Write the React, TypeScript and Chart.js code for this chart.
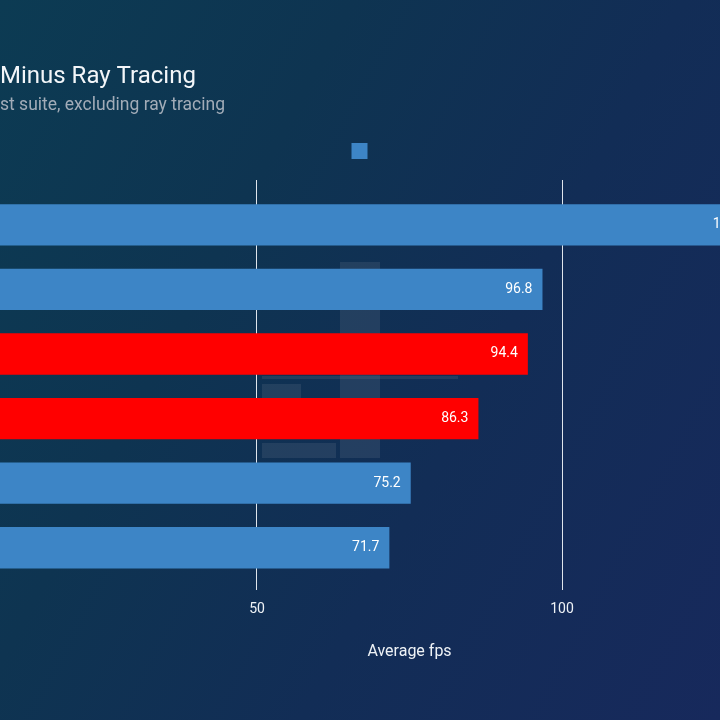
import React, { useEffect, useRef } from 'react';
import { Chart, registerables } from 'chart.js';

Chart.register(...registerables);

// ---- text ----
const TITLE = 'Minus Ray Tracing';
const SUBTITLE = 'st suite, excluding ray tracing';
const X_AXIS_TITLE = 'Average fps';

// ---- data ----
const categories = ['GPU 1', 'GPU 2', 'GPU 3', 'GPU 4', 'GPU 5', 'GPU 6'];
const values = [132.1, 96.8, 94.4, 86.3, 75.2, 71.7];
const barColors = ['#3d85c6', '#3d85c6', '#ff0000', '#ff0000', '#3d85c6', '#3d85c6'];
const xTickValues = [50, 100];

// visible window of the value axis (the full axis runs 0..150)
const X_VISIBLE_MIN = 7.87;
const X_VISIBLE_MAX = 125.9;
const X_AXIS_FULL = [0, 150];

const FONT = 'Roboto';
const TEXT_COLOR = '#eef2f6';
const GRID_COLOR = '#dfe5ec';

const valueLabels = {
  id: 'valueLabels',
  afterDatasetsDraw(chart: any) {
    const ctx = chart.ctx;
    const meta = chart.getDatasetMeta(0);
    ctx.save();
    ctx.font = `14px ${FONT}`;
    ctx.fillStyle = '#ffffff';
    ctx.textAlign = 'right';
    ctx.textBaseline = 'middle';
    meta.data.forEach((bar: any, i: number) => {
      ctx.fillText(values[i].toFixed(1), bar.x - 10, bar.y);
    });
    ctx.restore();
  },
};

const axisTitle = {
  id: 'axisTitle',
  afterDraw(chart: any) {
    const ctx = chart.ctx;
    const xs = chart.scales.x;
    const cx = xs.getPixelForValue((X_AXIS_FULL[0] + X_AXIS_FULL[1]) / 2);
    ctx.save();
    ctx.font = `16px ${FONT}`;
    ctx.fillStyle = TEXT_COLOR;
    ctx.textAlign = 'center';
    ctx.textBaseline = 'middle';
    ctx.fillText(X_AXIS_TITLE, cx, chart.chartArea.bottom + 71.5);
    ctx.restore();
  },
};

const tickSetter = (s: any) => {
  s.ticks = xTickValues.map((v) => ({ value: v }));
};

export default function App() {
  const ref = useRef<HTMLCanvasElement | null>(null);

  useEffect(() => {
    if (!ref.current) return;
    Chart.defaults.font.family = FONT;
    const chart = new Chart(ref.current, {
      type: 'bar',
      data: {
        labels: categories,
        datasets: [
          {
            label: '',
            data: values,
            backgroundColor: barColors,
            borderWidth: 0,
            barPercentage: 0.8,
            categoryPercentage: 0.8,
          },
        ],
      },
      options: {
        indexAxis: 'y',
        responsive: false,
        animation: false,
        layout: { padding: { top: 50, left: 0, right: 0, bottom: 91.2 } },
        plugins: {
          title: {
            display: true,
            text: TITLE,
            align: 'start',
            color: '#f3f6f9',
            font: { family: FONT, size: 24, weight: 'normal' },
            padding: { top: 12.4, bottom: 0 },
          },
          subtitle: {
            display: true,
            text: SUBTITLE,
            align: 'start',
            color: '#a2acb8',
            font: { family: FONT, size: 17.5, weight: 'normal' },
            padding: { top: 4.3, bottom: 5.5 },
          },
          legend: {
            display: true,
            position: 'top',
            align: 'center',
            onClick: () => {},
            labels: {
              boxWidth: 16,
              boxHeight: 16,
              padding: 21,
              font: { size: 2 },
              color: 'rgba(0,0,0,0)',
              generateLabels: () => [
                {
                  text: '',
                  fillStyle: barColors[0],
                  strokeStyle: barColors[0],
                  lineWidth: 0,
                  hidden: false,
                  datasetIndex: 0,
                },
              ],
            },
          },
          tooltip: { enabled: false },
        },
        scales: {
          x: {
            type: 'linear',
            position: 'bottom',
            min: X_VISIBLE_MIN,
            max: X_VISIBLE_MAX,
            afterBuildTicks: tickSetter,
            grid: { color: GRID_COLOR, lineWidth: 1, drawTicks: true, tickLength: 10 },
            border: { display: false },
            ticks: { color: TEXT_COLOR, font: { family: FONT, size: 14 }, padding: 11 },
          },
          x2: {
            type: 'linear',
            position: 'top',
            min: X_VISIBLE_MIN,
            max: X_VISIBLE_MAX,
            afterBuildTicks: tickSetter,
            grid: { color: GRID_COLOR, lineWidth: 1, drawOnChartArea: false, drawTicks: true, tickLength: 12.5 },
            border: { display: false },
            ticks: { display: false },
            title: { display: true, text: '', font: { size: 5 }, padding: { top: 0, bottom: 5 } },
          },
          y: { type: 'category', display: false },
        },
      },
      plugins: [valueLabels, axisTitle],
    } as any);
    return () => chart.destroy();
  }, []);

  const ghost = 'rgba(150,155,170,0.15)';
  return (
    <div
      style={{
        position: 'fixed',
        left: 0,
        top: 0,
        width: 720,
        height: 720,
        overflow: 'hidden',
        background:
          'linear-gradient(118deg, #0c3b53 0%, #0e3451 32%, #122d56 62%, #17295c 100%)',
      }}
    >
      <div style={{ position: 'absolute', left: 340, top: 262, width: 40, height: 196, background: ghost }} />
      <div style={{ position: 'absolute', left: 262, top: 384, width: 39, height: 16, background: ghost }} />
      <div style={{ position: 'absolute', left: 262, top: 443, width: 74, height: 15, background: ghost }} />
      <div style={{ position: 'absolute', left: 262, top: 376, width: 196, height: 3, background: ghost }} />
      <canvas
        ref={ref}
        width={720}
        height={720}
        style={{ position: 'absolute', left: 0, top: 0, width: 720, height: 720 }}
      />
    </div>
  );
}
